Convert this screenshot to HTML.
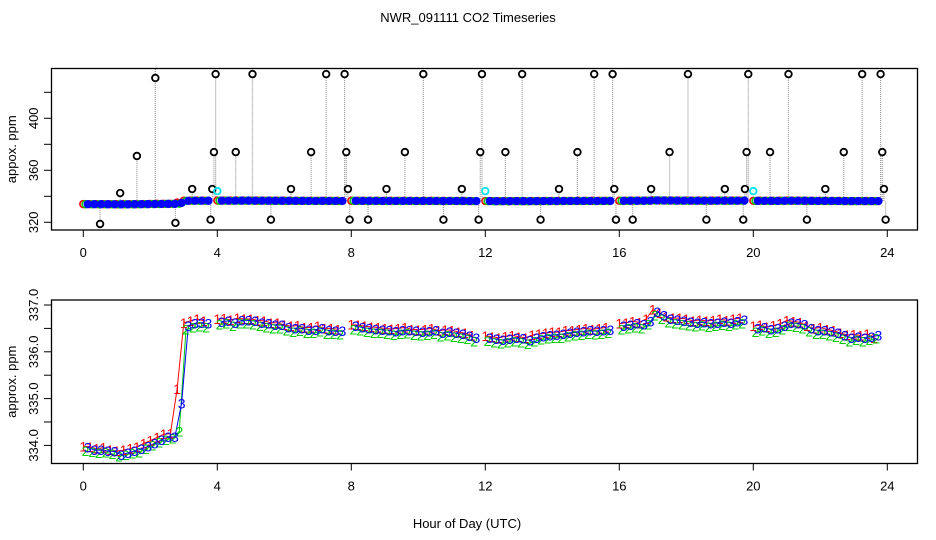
<!DOCTYPE html>
<html><head><meta charset="utf-8">
<style>
html,body{margin:0;padding:0;background:#fff;}
svg{display:block;font-family:"Liberation Sans",sans-serif;}
</style></head>
<body>
<svg id="chart" width="936" height="540" viewBox="0 0 936 540" xmlns="http://www.w3.org/2000/svg">
<rect width="936" height="540" fill="#fff"/>
<text x="468" y="22" font-size="13" text-anchor="middle">NWR_091111  CO2 Timeseries</text>
<g id="top"></g>
<g id="bot"></g>
<text x="467" y="528" font-size="13" text-anchor="middle">Hour of Day (UTC)</text>
</svg>
<script>
const xTicks=[0,4,8,12,16,20,24];
const topYTicks=[320,340,360,380,400,420];
const topYLabels=["320","","360","","400",""];
const botYTicks=[334.0,334.5,335.0,335.5,336.0,336.5,337.0];
const botYLabels=["334.0","","335.0","","336.0","","337.0"];
const stepHours=0.2;
const series1=[333.98,333.97,333.93,333.95,333.9,333.88,333.9,333.93,333.97,334.04,334.1,334.17,334.24,334.25,335.2,336.62,336.66,336.7,336.66,null,
336.7,336.71,336.68,336.72,336.7,336.7,336.67,336.66,336.62,336.62,336.57,336.55,336.56,336.52,336.52,336.55,336.5,336.5,336.48,null,
336.58,336.57,336.55,336.53,336.52,336.5,336.49,336.5,336.52,336.48,336.47,336.48,336.5,336.45,336.47,336.46,336.42,336.4,336.35,null,
336.34,336.32,336.3,336.33,336.35,336.32,336.3,336.36,336.38,336.4,336.42,336.42,336.45,336.46,336.48,336.5,336.48,336.5,336.52,null,
336.6,336.62,336.65,336.63,336.7,336.9,336.83,336.75,336.72,336.72,336.7,336.66,336.68,336.66,336.67,336.7,336.67,336.7,336.72,null,
336.55,336.57,336.53,336.56,336.6,336.67,336.65,336.63,336.55,336.5,336.52,336.48,336.45,336.4,336.36,336.37,336.35,336.38,336.3,null];
const series2=[333.88,333.86,333.84,333.85,333.82,333.76,333.8,333.83,333.85,333.92,334.0,334.06,334.12,334.15,334.3,336.48,336.52,336.54,336.52,null,
336.58,336.6,336.55,336.6,336.6,336.58,336.55,336.52,336.5,336.5,336.45,336.42,336.44,336.4,336.4,336.43,336.38,336.38,336.37,null,
336.48,336.45,336.42,336.4,336.4,336.38,336.36,336.38,336.39,336.36,336.35,336.36,336.38,336.33,336.35,336.32,336.3,336.27,336.22,null,
336.23,336.2,336.18,336.2,336.22,336.2,336.17,336.22,336.26,336.28,336.3,336.3,336.33,336.35,336.36,336.38,336.37,336.38,336.4,null,
336.48,336.5,336.52,336.5,336.58,336.78,336.7,336.63,336.6,336.58,336.56,336.54,336.56,336.53,336.55,336.57,336.55,336.58,336.6,null,
336.42,336.45,336.4,336.42,336.48,336.55,336.53,336.5,336.43,336.38,336.38,336.35,336.32,336.27,336.22,336.25,336.22,336.25,336.28,null];
const series3=[333.96,333.9,333.9,333.88,333.87,333.8,333.84,333.88,333.92,333.98,334.04,334.12,334.18,334.18,334.9,336.55,336.6,336.62,336.6,null,
336.64,336.66,336.62,336.67,336.67,336.66,336.62,336.6,336.57,336.57,336.52,336.5,336.5,336.47,336.47,336.5,336.45,336.44,336.44,null,
336.55,336.52,336.5,336.48,336.47,336.46,336.43,336.45,336.46,336.44,336.42,336.43,336.45,336.4,336.42,336.4,336.38,336.34,336.3,null,
336.3,336.27,336.25,336.27,336.3,336.28,336.24,336.3,336.33,336.35,336.36,336.38,336.4,336.42,336.43,336.45,336.44,336.46,336.47,null,
336.55,336.57,336.6,336.58,336.65,336.85,336.78,336.7,336.68,336.66,336.64,336.62,336.63,336.6,336.62,336.64,336.62,336.65,336.68,null,
336.5,336.52,336.48,336.5,336.55,336.62,336.6,336.58,336.5,336.45,336.46,336.43,336.4,336.35,336.3,336.32,336.3,336.32,336.35,null];
const outlierHours=[0.5,1.1,1.6,2.15,2.75,3.25,3.8,3.85,3.9,3.95,4.55,5.05,5.6,6.2,6.8,7.25,7.8,7.85,7.9,7.95,8.5,9.05,9.6,10.15,10.75,11.3,11.8,11.85,11.9,12.6,13.1,13.65,14.2,14.75,15.25,15.8,15.85,15.9,16.4,16.95,17.5,18.05,18.6,19.15,19.7,19.75,19.8,19.85,20.5,21.05,21.6,22.15,22.7,23.25,23.8,23.85,23.9,23.95];
const outlierValues=[318.7,342.5,371,431,319.5,345.6,322,345.6,374,434,374,434,322,345.6,374,434,434,374,345.6,322,322,345.6,374,434,322,345.6,322,374,434,374,434,322,345.6,374,434,434,345.6,322,322,345.6,374,434,322,345.6,322,345.6,374,434,374,434,322,345.6,374,434,434,374,345.6,322];
const cyanHours=[4.0,12.0,20.0];
const cyanValues=[344,344,344];
const seriesColors=["#ff0000","#00cc00","#0000ff"];
const seriesLabels=["1","2","3"];

const NS="http://www.w3.org/2000/svg";
function mk(tag,attrs,parent){const e=document.createElementNS(NS,tag);for(const k in attrs)e.setAttribute(k,attrs[k]);parent.appendChild(e);return e;}
const xScale=h=>83.3+h*33.5;
const topY=v=>222.3-(v-320)*1.3;
const botY=v=>305+(337-v)*46.8;
const allSeries=[series1,series2,series3];
const timeOf=(i,k)=>i*stepHours+k*0.067;

function axes(g,top,bottom,yTicks,yLabels,yFn,yTitle,yTitleName){
  const box=mk('rect',{x:51.5,y:top,width:866,height:bottom-top,fill:'none',stroke:'#000','stroke-width':1.3},g);
  
  
  xTicks.forEach(t=>{
    const x=xScale(t);
    const l=mk('line',{x1:x,x2:x,y1:bottom,y2:bottom+7,stroke:'#000'},g);
    
    
    const tx=mk('text',{x:x,y:bottom+27,'font-size':13,'text-anchor':'middle'},g);
    tx.textContent=String(t);
    
    
  });
  yTicks.forEach((v,i)=>{
    const y=yFn(v);
    const l=mk('line',{x1:44,x2:51.5,y1:y,y2:y,stroke:'#000'},g);
    
    
    if(yLabels[i]){
      const tx=mk('text',{x:38,y:y,'font-size':13,'text-anchor':'middle',transform:`rotate(-90 38 ${y})`},g);
      tx.textContent=yLabels[i];
      
      
    }
  });
  const my=(top+bottom)/2;
  const t=mk('text',{x:16,y:my,'font-size':13,'text-anchor':'middle',transform:`rotate(-90 16 ${my})`},g);
  t.textContent=yTitle;
  
  
}

// TOP PANEL
const gt=document.getElementById('top');
outlierHours.forEach((h,j)=>{
  const i=Math.round(h/stepHours);
  let b=series3[i]; if(b==null) b=series3[i-1]; if(b==null) b=336;
  const v=outlierValues[j];
  const y2=v>400?68:topY(v);
  const l=mk('line',{x1:xScale(h),x2:xScale(h),y1:topY(b),y2:y2,stroke:'#999','stroke-width':1.2,'stroke-dasharray':'1 1'},gt);
  
  
});
allSeries.forEach((s,k)=>{
  s.forEach((v,i)=>{
    if(v==null) return;
    const c=mk('circle',{cx:xScale(timeOf(i,k)),cy:topY(v),r:3.4,fill:k==2?'#0000ff':'none',stroke:seriesColors[k],'stroke-width':1.6},gt);
    
    
  });
});
outlierHours.forEach((h,j)=>{
  const c=mk('circle',{cx:xScale(h),cy:topY(outlierValues[j]),r:3.3,fill:'#fff',stroke:'#000','stroke-width':1.8},gt);
  
  
});
cyanHours.forEach((h,j)=>{
  const c=mk('circle',{cx:xScale(h),cy:topY(cyanValues[j]),r:3.3,fill:'none',stroke:'#00e5ee','stroke-width':1.8},gt);
  
  
});
axes(gt,68.5,230,topYTicks,topYLabels,topY,'appox. ppm','top-y-axis-title');

// BOTTOM PANEL
const gb=document.getElementById('bot');
allSeries.forEach((s,k)=>{
  let d='';let pen=false;
  s.forEach((v,i)=>{
    if(v==null){pen=false;return;}
    d+=(pen?'L':'M')+xScale(timeOf(i,k)).toFixed(1)+' '+botY(v).toFixed(1)+' ';
    pen=true;
  });
  const p=mk('path',{d:d,fill:'none',stroke:seriesColors[k],'stroke-width':1},gb);
  
  
});
allSeries.forEach((s,k)=>{
  s.forEach((v,i)=>{
    if(v==null) return;
    const t=mk('text',{x:xScale(timeOf(i,k)),y:botY(v)+5,'font-size':14,'text-anchor':'middle',fill:seriesColors[k]},gb);
    t.textContent=seriesLabels[k];
    
    
  });
});
axes(gb,300,463.5,botYTicks,botYLabels,botY,'approx. ppm','bottom-y-axis-title');
</script>
</body></html>
